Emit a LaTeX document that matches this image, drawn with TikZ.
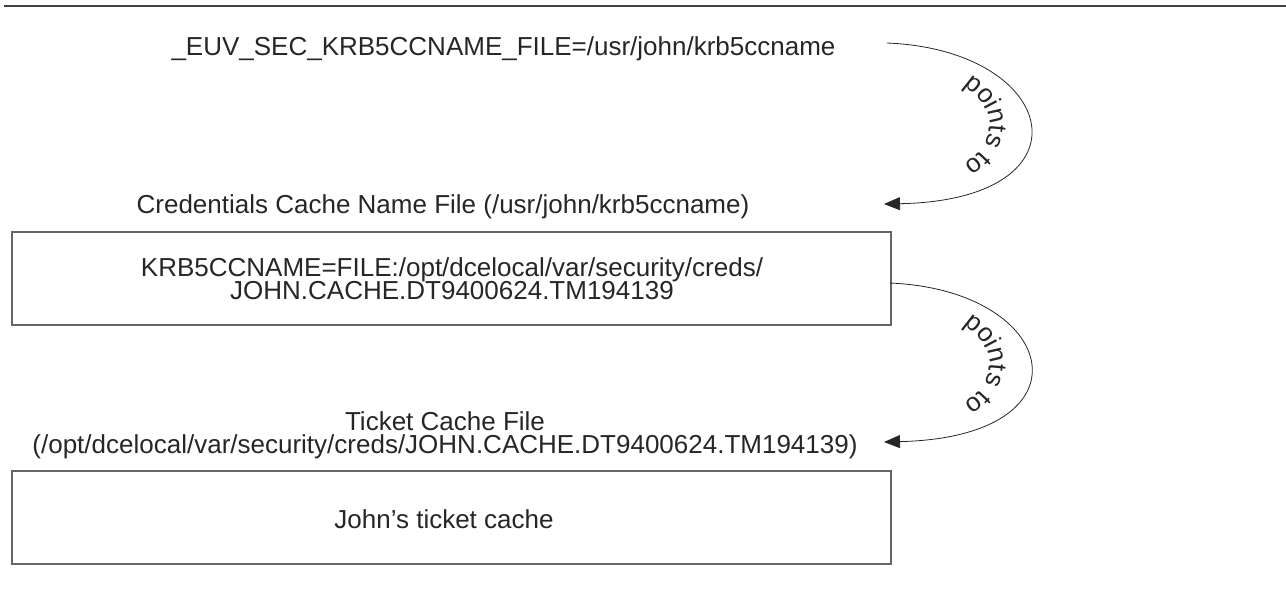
\documentclass[tikz,border=0pt]{standalone}
\usepackage{fontspec}
\setmainfont{Liberation Sans}
\usetikzlibrary{arrows.meta,decorations.text,calc}
\newcommand\tightlines{\lineskiplimit=-100pt\relax}

\begin{document}
\begin{tikzpicture}[x=1pt,y=-1pt,
  lbl/.style={font=\fontsize{26}{23}\selectfont\tightlines, inner sep=0pt, align=center, text=black!85},
  box/.style={draw=black!60, line width=1.1pt, inner sep=0pt},
  ptr/.style={line width=0.8pt, draw=black!85, -{Triangle[length=16pt,width=13pt]}},
  ptrlabel/.style={decorate, decoration={text along path, text align=center,
      text={|\fontsize{26}{26}\selectfont\color{black!85}|points to}}},
]
\useasboundingbox (0,0) rectangle (1286,592);

% top rule
\draw[line width=2pt, black!75] (4,5.5) -- (1286,5.5);

% environment variable
\node[lbl, anchor=base] (envvar) at (503.5,55) {\_EUV\_SEC\_KRB5CCNAME\_FILE=/usr/john/krb5ccname};

% credentials cache name file
\node[lbl, anchor=base] (namelabel) at (443,213) {Credentials Cache Name File (/usr/john/krb5ccname)};
\node[box, minimum width=879pt, minimum height=93pt] (namefile) at (451.5,278.5) {};
\node[lbl] (namecontent) at (452,279)
  {KRB5CCNAME=FILE:/opt/dcelocal/var/security/creds/\\JOHN.CACHE.DT9400624.TM194139};

% ticket cache file
\node[lbl] (ticketlabel) at (445,435)
  {Ticket Cache File\\(/opt/dcelocal/var/security/creds/JOHN.CACHE.DT9400624.TM194139)};
\node[box, minimum width=879pt, minimum height=93pt] (ticketfile) at (451.5,517.5) {};
\node[lbl, anchor=base] (ticketcontent) at (444,528) {John’s ticket cache};

% "points to" connectors, each with its label set on an inner guide curve
\coordinate (p1s) at (887,43);
\coordinate (p1e) at (884,204);
\coordinate (p2s) at ($(namefile.east)+(-2,4.5)$);
\coordinate (p2e) at (884,442);

\draw[ptr] (p1s) .. controls (1060,50) and (1095,200) .. (p1e);
\path[ptrlabel] (875,62) .. controls (1022,68) and (1034,180) .. (875,186);

\draw[ptr] (p2s) .. controls (1060,290) and (1095,437) .. (p2e);
\path[ptrlabel] (875,301) .. controls (1022,307) and (1034,419) .. (875,425);
\end{tikzpicture}
\end{document}
